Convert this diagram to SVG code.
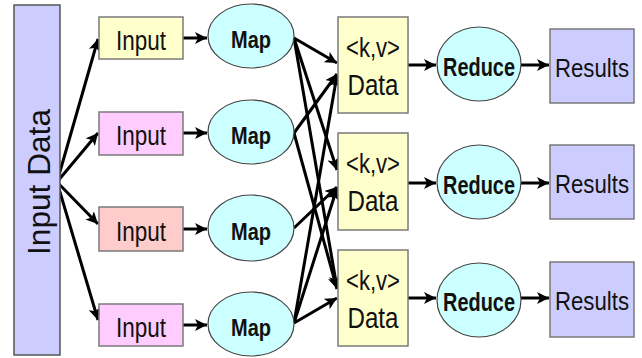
<svg xmlns="http://www.w3.org/2000/svg" width="642" height="358" viewBox="0 0 642 358">
<style>
  .t{font-family:"Liberation Sans",Arial,sans-serif;fill:#111;text-anchor:middle}
  .b{font-weight:bold}
  .box{stroke:#7a7a7a;stroke-width:1.5}
  .ell{fill:#ccffff;stroke:#444;stroke-width:1.2}
  .c{stroke:#000;stroke-width:3;fill:none;marker-end:url(#ah)}
</style>
<defs>
  <marker id="ah" markerUnits="userSpaceOnUse" markerWidth="14" markerHeight="12" refX="12" refY="6" orient="auto">
    <path d="M0,0 L12,6 L0,12 L3,6 Z" fill="#000"/>
  </marker>
</defs>
<rect width="642" height="358" fill="#fff"/>

<g id="connectors">
  <line class="c" x1="57" y1="182" x2="98" y2="39"/>
  <line class="c" x1="57" y1="182" x2="98" y2="133"/>
  <line class="c" x1="57" y1="182" x2="98" y2="224"/>
  <line class="c" x1="57" y1="182" x2="98" y2="320"/>

  <line class="c" x1="183" y1="38" x2="207" y2="38"/>
  <line class="c" x1="183" y1="133" x2="207" y2="133"/>
  <line class="c" x1="183" y1="229" x2="207" y2="229"/>
  <line class="c" x1="183" y1="325" x2="207" y2="325"/>

  <line class="c" x1="294" y1="38" x2="337" y2="63"/>
  <line class="c" x1="294" y1="38" x2="337" y2="170"/>
  <line class="c" x1="294" y1="38" x2="337" y2="288"/>
  <line class="c" x1="294" y1="133" x2="337" y2="74"/>
  <line class="c" x1="294" y1="133" x2="337" y2="289"/>
  <line class="c" x1="294" y1="228" x2="337" y2="187"/>
  <line class="c" x1="294" y1="323" x2="337" y2="75"/>
  <line class="c" x1="294" y1="323" x2="337" y2="188"/>
  <line class="c" x1="294" y1="323" x2="337" y2="298"/>

  <line class="c" x1="408" y1="65" x2="436" y2="65"/>
  <line class="c" x1="408" y1="183" x2="436" y2="183"/>
  <line class="c" x1="408" y1="298" x2="436" y2="298"/>
  <line class="c" x1="521" y1="65" x2="549" y2="65"/>
  <line class="c" x1="521" y1="183" x2="549" y2="183"/>
  <line class="c" x1="521" y1="298" x2="549" y2="298"/>
</g>

<g id="input-data">
  <rect x="14" y="5" width="46" height="350" fill="#ccccff" stroke="#555" stroke-width="1.5"/>
  <text class="t" transform="translate(50,182) rotate(-90)" font-size="31" textLength="146" lengthAdjust="spacingAndGlyphs">Input Data</text>
</g>

<g id="input1"><rect class="box" x="99" y="17" width="84" height="42" fill="#ffffcc"/><text class="t" x="141" y="50" font-size="27" textLength="50" lengthAdjust="spacingAndGlyphs">Input</text></g>
<g id="input2"><rect class="box" x="99" y="112" width="84" height="43" fill="#ffccff"/><text class="t" x="141" y="145" font-size="27" textLength="50" lengthAdjust="spacingAndGlyphs">Input</text></g>
<g id="input3"><rect class="box" x="99" y="207" width="84" height="44" fill="#ffcccc"/><text class="t" x="141" y="241" font-size="27" textLength="50" lengthAdjust="spacingAndGlyphs">Input</text></g>
<g id="input4"><rect class="box" x="99" y="304" width="84" height="42" fill="#ffccff"/><text class="t" x="141" y="337" font-size="27" textLength="50" lengthAdjust="spacingAndGlyphs">Input</text></g>

<g id="map1"><ellipse class="ell" cx="251" cy="36" rx="43" ry="32"/><text class="t b" x="251" y="48" font-size="23" textLength="40" lengthAdjust="spacingAndGlyphs">Map</text></g>
<g id="map2"><ellipse class="ell" cx="251" cy="132" rx="43" ry="32"/><text class="t b" x="251" y="144" font-size="23" textLength="40" lengthAdjust="spacingAndGlyphs">Map</text></g>
<g id="map3"><ellipse class="ell" cx="251" cy="228" rx="43" ry="33"/><text class="t b" x="251" y="240" font-size="23" textLength="40" lengthAdjust="spacingAndGlyphs">Map</text></g>
<g id="map4"><ellipse class="ell" cx="251" cy="324" rx="43" ry="32"/><text class="t b" x="251" y="336" font-size="23" textLength="40" lengthAdjust="spacingAndGlyphs">Map</text></g>

<g id="data1"><rect class="box" x="338" y="17" width="70" height="96" fill="#ffffcc"/><text class="t" x="373" y="57" font-size="27" textLength="54" lengthAdjust="spacingAndGlyphs">&lt;k,v&gt;</text><text class="t" x="373" y="95" font-size="29" textLength="51" lengthAdjust="spacingAndGlyphs">Data</text></g>
<g id="data2"><rect class="box" x="338" y="133" width="70" height="97" fill="#ffffcc"/><text class="t" x="373" y="173" font-size="27" textLength="54" lengthAdjust="spacingAndGlyphs">&lt;k,v&gt;</text><text class="t" x="373" y="211" font-size="29" textLength="51" lengthAdjust="spacingAndGlyphs">Data</text></g>
<g id="data3"><rect class="box" x="338" y="250" width="70" height="96" fill="#ffffcc"/><text class="t" x="373" y="290" font-size="27" textLength="54" lengthAdjust="spacingAndGlyphs">&lt;k,v&gt;</text><text class="t" x="373" y="328" font-size="29" textLength="51" lengthAdjust="spacingAndGlyphs">Data</text></g>

<g id="reduce1"><ellipse class="ell" cx="479" cy="64" rx="42" ry="37"/><text class="t b" x="479" y="76" font-size="25" textLength="72" lengthAdjust="spacingAndGlyphs">Reduce</text></g>
<g id="reduce2"><ellipse class="ell" cx="479" cy="182" rx="42" ry="37"/><text class="t b" x="479" y="194" font-size="25" textLength="72" lengthAdjust="spacingAndGlyphs">Reduce</text></g>
<g id="reduce3"><ellipse class="ell" cx="479" cy="300" rx="42" ry="37"/><text class="t b" x="479" y="311" font-size="25" textLength="72" lengthAdjust="spacingAndGlyphs">Reduce</text></g>

<g id="results1"><rect class="box" x="550" y="29" width="84" height="74" fill="#ccccff"/><text class="t" x="592" y="77" font-size="25" textLength="74" lengthAdjust="spacingAndGlyphs">Results</text></g>
<g id="results2"><rect class="box" x="550" y="145" width="84" height="74" fill="#ccccff"/><text class="t" x="592" y="193" font-size="25" textLength="74" lengthAdjust="spacingAndGlyphs">Results</text></g>
<g id="results3"><rect class="box" x="550" y="262" width="84" height="75" fill="#ccccff"/><text class="t" x="592" y="310" font-size="25" textLength="74" lengthAdjust="spacingAndGlyphs">Results</text></g>
</svg>
